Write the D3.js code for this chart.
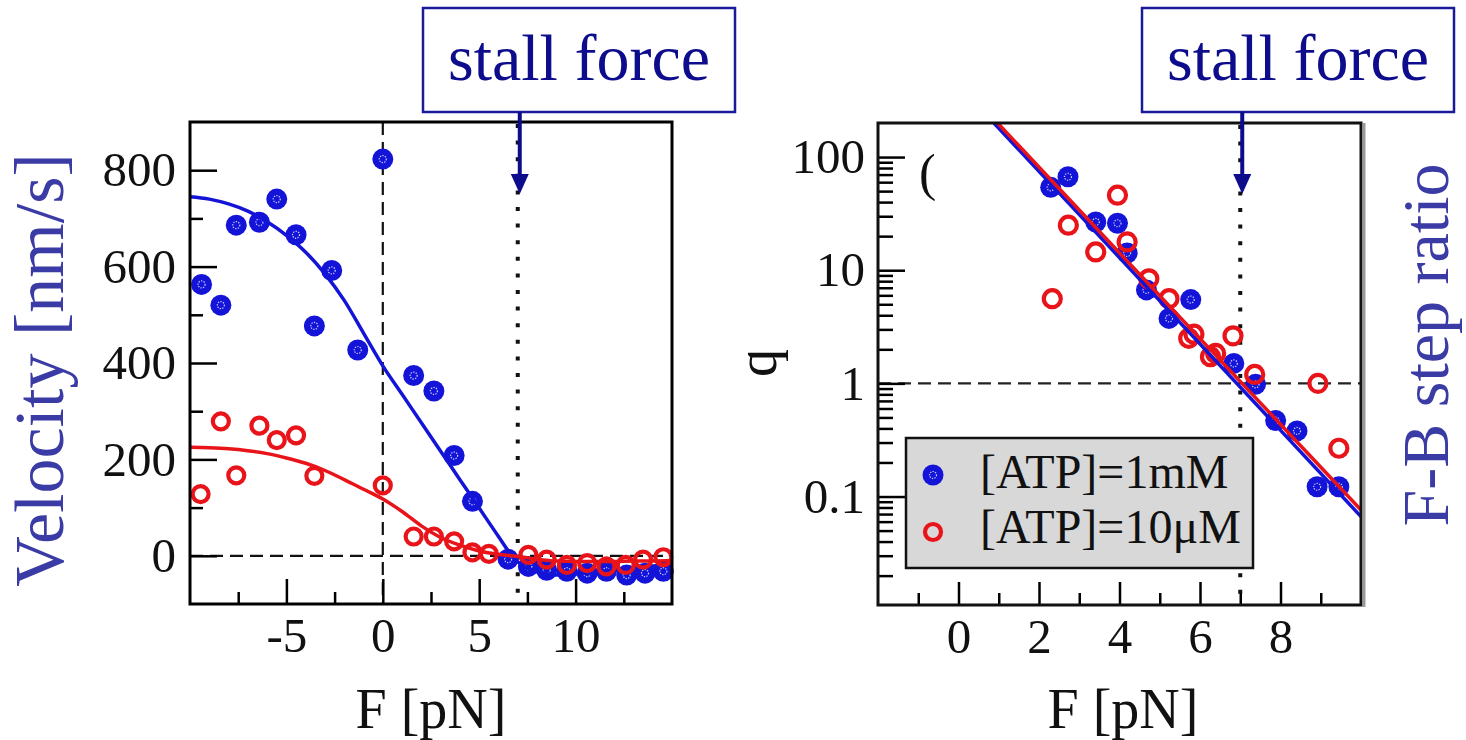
<!DOCTYPE html>
<html>
<head>
<meta charset="utf-8">
<script src="https://cdn.jsdelivr.net/npm/d3@7"></script>
<style>
  body { margin: 0; background: #fff; }
  svg { display: block; }
  text { font-family: "Liberation Serif", "Times New Roman", serif; }
</style>
</head>
<body>
<div id="chart"></div>
<script>
// ---- velocity panel (left) ----
const velForceBlue = [-9.4, -8.4, -7.6, -6.4, -5.5, -4.5, -3.55, -2.65, -1.3, 0, 1.6, 2.65, 3.7, 4.65, 6.5, 7.55, 8.5, 9.55, 10.6, 11.6, 12.65, 13.6, 14.55];
const velBlue = [563, 520, 686, 692, 740, 666, 477, 592, 427, 823, 374, 342, 208, 113, -7, -22, -30, -32, -36, -32, -40, -36, -32];
const velForceRed = [-9.45, -8.4, -7.6, -6.4, -5.5, -4.5, -3.55, 0, 1.6, 2.65, 3.7, 4.65, 5.5, 7.55, 8.5, 9.55, 10.6, 11.6, 12.6, 13.5, 14.55];
const velRed = [128, 279, 167, 270, 240, 250, 166, 146, 40, 40, 30, 7, 4, 2, -8, -19, -15, -22, -19, -8, -3];

// fitted curves
const fitForce = [-10, -9, -8, -7, -6, -5, -4, -3, -2, -1, 0, 1, 2, 3, 4, 5, 6, 6.7, 7.3, 8, 9, 10, 11, 12, 13, 14, 15];
const fitBlue = [745, 740, 730, 715, 693, 665, 630, 585, 530, 462, 394, 335, 276, 217, 158, 99, 40, 0, -22, -33, -40, -38, -34, -29, -25, -21, -18];
const fitRed = [225, 224, 222, 218, 212, 203, 192, 177, 158, 138, 118, 92, 62, 38, 22, 10, 3, 0, -3, -7, -11, -12, -12, -12, -11, -11, -10];

const velTicks = [0, 200, 400, 600, 800];
const velMinor = [100, 300, 500, 700];
const forceTicksL = [-5, 0, 5, 10];
const forceMinorL = [-7.5, -2.5, 2.5, 7.5, 12.5];

// ---- step ratio panel (right) ----
const qForceBlue = [2.29, 2.72, 3.41, 3.95, 4.19, 4.67, 5.23, 5.77, 6.84, 7.38, 7.88, 8.41, 8.91, 9.45];
const qBlue = [54, 67, 26.7, 26, 14.2, 6.7, 3.75, 5.5, 1.5, 0.98, 0.47, 0.38, 0.122, 0.122];
const qForceRed = [2.33, 2.73, 3.41, 3.95, 4.19, 4.73, 5.23, 5.72, 5.85, 6.26, 6.39, 6.82, 7.36, 8.93, 9.45];
const qRed = [5.6, 25, 14.5, 46, 17.8, 8.4, 5.6, 2.5, 2.72, 1.72, 1.84, 2.63, 1.2, 1.0, 0.267];

const qFitForceBlue = [0.88, 10];
const qFitBlue = [200, 0.0665];
const qFitForceRed = [0.97, 10];
const qFitRed = [200, 0.076];

const qTicks = [0.1, 1, 10, 100];
const qTickLabels = ["0.1", "1", "10", "100"];
const forceTicksR = [0, 2, 4, 6, 8];
const forceMinorR = [-1, 1, 3, 5, 7, 9];

const stallForce = 7;
const legendLabels = ["[ATP]=1mM", "[ATP]=10\u03bcM"];

const BLUE = "#1414d8", RED = "#e8141a", NAVY = "#0c0c8c", LABEL = "#3b3ba6";

const svg = d3.select("#chart")
  .append("svg")
    .attr("width", 1466)
    .attr("height", 740);

function styleAxis(g) {
  g.select(".domain").remove();
  g.selectAll("line").attr("stroke", "#000").attr("stroke-width", 2.5);
  g.selectAll("text")
    .attr("fill", "#111")
    .style("font-family", '"Liberation Serif", "Times New Roman", serif')
    .style("font-size", "49px");
}

function blueDot(sel) {
  sel.append("circle").attr("r", 10.5).attr("fill", BLUE);
  sel.append("circle").attr("r", 3.5).attr("fill", "none")
    .attr("stroke", "#c8d0ff").attr("stroke-width", 1.2)
    .attr("stroke-dasharray", "1.3,1.3");
}

// ================= left panel =================
const xL = d3.scaleLinear().domain([-10, 15]).range([190, 672]);
const yL = d3.scaleLinear().domain([-100, 900]).range([604, 122]);
const gL = svg.append("g");

// reference lines
gL.append("line")
  .attr("x1", xL(0)).attr("x2", xL(0)).attr("y1", yL(900)).attr("y2", yL(-100))
  .attr("stroke", "#111").attr("stroke-width", 2.2).attr("stroke-dasharray", "13,7");
gL.append("line")
  .attr("x1", xL(-10)).attr("x2", xL(15)).attr("y1", yL(0)).attr("y2", yL(0))
  .attr("stroke", "#111").attr("stroke-width", 2.2).attr("stroke-dasharray", "13,7");
gL.append("line")
  .attr("x1", xL(stallForce)).attr("x2", xL(stallForce)).attr("y1", yL(900) + 2).attr("y2", yL(-100))
  .attr("stroke", "#111").attr("stroke-width", 4).attr("stroke-dasharray", "4,12.6");

// axes with inward ticks
gL.append("g").attr("transform", `translate(${xL(-10)},0)`)
  .call(d3.axisLeft(yL).tickValues(velTicks).tickSize(-27).tickPadding(14).tickFormat(d => String(d)))
  .call(styleAxis);
gL.append("g").attr("transform", `translate(${xL(-10)},0)`)
  .call(d3.axisLeft(yL).tickValues(velMinor).tickSize(-13).tickFormat(""))
  .call(styleAxis);
gL.append("g").attr("transform", `translate(0,${yL(-100)})`)
  .call(d3.axisBottom(xL).tickValues(forceTicksL).tickSize(-25).tickPadding(13).tickFormat(d => String(d)))
  .call(styleAxis);
gL.append("g").attr("transform", `translate(0,${yL(-100)})`)
  .call(d3.axisBottom(xL).tickValues(forceMinorL).tickSize(-12).tickFormat(""))
  .call(styleAxis);

// blue points
gL.selectAll("g.bdot")
  .data(velForceBlue.map((f, i) => [f, velBlue[i]]))
  .join("g").attr("class", "bdot")
    .attr("transform", d => `translate(${xL(d[0])},${yL(d[1])})`)
    .call(blueDot);

const lineL = d3.line().x(d => xL(d[0])).y(d => yL(d[1])).curve(d3.curveMonotoneX);
gL.append("path")
  .datum(fitForce.map((f, i) => [f, fitBlue[i]]))
  .attr("d", lineL).attr("fill", "none").attr("stroke", BLUE).attr("stroke-width", 3.5);
gL.append("path")
  .datum(fitForce.map((f, i) => [f, fitRed[i]]))
  .attr("d", lineL).attr("fill", "none").attr("stroke", RED).attr("stroke-width", 3.5);

gL.selectAll("circle.rdot")
  .data(velForceRed.map((f, i) => [f, velRed[i]]))
  .join("circle").attr("class", "rdot")
    .attr("cx", d => xL(d[0])).attr("cy", d => yL(d[1]))
    .attr("r", 8).attr("fill", "none").attr("stroke", RED).attr("stroke-width", 4.2);

gL.append("rect")
  .attr("x", xL(-10)).attr("y", yL(900))
  .attr("width", xL(15) - xL(-10)).attr("height", yL(-100) - yL(900))
  .attr("fill", "none").attr("stroke", "#000").attr("stroke-width", 3);

// ================= right panel =================
const xR = d3.scaleLinear().domain([-2, 10]).range([878, 1361]);
const yR = d3.scaleLog().domain([0.011, 200]).range([605, 123]);
const gR = svg.append("g");

gR.append("line")
  .attr("x1", xR(-2)).attr("x2", xR(10)).attr("y1", yR(1)).attr("y2", yR(1))
  .attr("stroke", "#222").attr("stroke-width", 2.2).attr("stroke-dasharray", "13,7");
gR.append("line")
  .attr("x1", xR(stallForce)).attr("x2", xR(stallForce)).attr("y1", yR(200) + 2).attr("y2", yR(0.011))
  .attr("stroke", "#111").attr("stroke-width", 4).attr("stroke-dasharray", "4,12.6");

const minorLog = yR.ticks().filter(v => !qTicks.includes(v) && v < 200);
gR.append("g").attr("transform", `translate(${xR(-2)},0)`)
  .call(d3.axisLeft(yR).tickValues(qTicks).tickSize(-27).tickPadding(13)
    .tickFormat((d, i) => qTickLabels[i]))
  .call(styleAxis);
gR.append("g").attr("transform", `translate(${xR(-2)},0)`)
  .call(d3.axisLeft(yR).tickValues(minorLog).tickSize(-15).tickFormat(""))
  .call(styleAxis);
gR.append("g").attr("transform", `translate(0,${yR(0.011)})`)
  .call(d3.axisBottom(xR).tickValues(forceTicksR).tickSize(-23).tickPadding(13).tickFormat(d => String(d)))
  .call(styleAxis);
gR.append("g").attr("transform", `translate(0,${yR(0.011)})`)
  .call(d3.axisBottom(xR).tickValues(forceMinorR).tickSize(-12).tickFormat(""))
  .call(styleAxis);

// partly masked panel letter
gR.append("text").attr("x", 919).attr("y", 190).attr("font-size", 52).attr("fill", "#111").text("(");
gR.append("rect").attr("x", 934).attr("y", 128).attr("width", 72).attr("height", 66).attr("fill", "#fff");

gR.selectAll("g.bdot")
  .data(qForceBlue.map((f, i) => [f, qBlue[i]]))
  .join("g").attr("class", "bdot")
    .attr("transform", d => `translate(${xR(d[0])},${yR(d[1])})`)
    .call(blueDot);
gR.selectAll("circle.rdot")
  .data(qForceRed.map((f, i) => [f, qRed[i]]))
  .join("circle").attr("class", "rdot")
    .attr("cx", d => xR(d[0])).attr("cy", d => yR(d[1]))
    .attr("r", 8.5).attr("fill", "none").attr("stroke", RED).attr("stroke-width", 4.2);

const lineR = d3.line().x(d => xR(d[0])).y(d => yR(d[1]));
gR.append("path")
  .datum(qFitForceBlue.map((f, i) => [f, qFitBlue[i]]))
  .attr("d", lineR).attr("fill", "none").attr("stroke", BLUE).attr("stroke-width", 3.5);
gR.append("path")
  .datum(qFitForceRed.map((f, i) => [f, qFitRed[i]]))
  .attr("d", lineR).attr("fill", "none").attr("stroke", RED).attr("stroke-width", 3.5);

// legend
const leg = gR.append("g").attr("transform", "translate(906,438)");
leg.append("rect").attr("width", 347).attr("height", 130)
  .attr("fill", "#d8d8d8").attr("stroke", "#111").attr("stroke-width", 2.5);
leg.append("g").attr("transform", "translate(27,37)").call(blueDot);
leg.append("circle").attr("cx", 27).attr("cy", 94).attr("r", 8)
  .attr("fill", "none").attr("stroke", RED).attr("stroke-width", 4.2);
leg.selectAll("text.lg")
  .data(legendLabels)
  .join("text").attr("class", "lg")
    .attr("x", 74).attr("y", (d, i) => 50 + i * 55)
    .attr("font-size", 48).attr("fill", "#111")
    .text(d => d);

gR.append("rect")
  .attr("x", xR(-2)).attr("y", yR(200))
  .attr("width", xR(10) - xR(-2)).attr("height", yR(0.011) - yR(200))
  .attr("fill", "none").attr("stroke", "#111").attr("stroke-width", 3);
gR.append("line")
  .attr("x1", xR(10) + 3).attr("x2", xR(10) + 3).attr("y1", yR(200)).attr("y2", yR(0.011) + 2)
  .attr("stroke", "#999").attr("stroke-width", 3);

// ================= labels =================
svg.append("text")
  .attr("transform", "translate(63,370) rotate(-90)")
  .attr("text-anchor", "middle").attr("font-size", 70).attr("fill", LABEL)
  .text("Velocity [nm/s]");
svg.append("text")
  .attr("transform", "translate(1448,345) rotate(-90)")
  .attr("text-anchor", "middle").attr("font-size", 66).attr("fill", LABEL)
  .text("F-B step ratio");
svg.append("text")
  .attr("transform", "translate(776,363) rotate(-90)")
  .attr("text-anchor", "middle").attr("font-size", 56).attr("fill", "#111")
  .text("q");
svg.append("text")
  .attr("x", 431).attr("y", 728).attr("text-anchor", "middle")
  .attr("font-size", 56).attr("fill", "#111").text("F [pN]");
svg.append("text")
  .attr("x", 1123).attr("y", 728).attr("text-anchor", "middle")
  .attr("font-size", 56).attr("fill", "#111").text("F [pN]");

// stall force call-outs
[[423, xL(stallForce)], [1142, xR(stallForce)]].forEach(([bx, ax]) => {
  const g = svg.append("g");
  g.append("rect").attr("x", bx).attr("y", 8).attr("width", 312).attr("height", 104)
    .attr("fill", "#fff").attr("stroke", "#1a1a9a").attr("stroke-width", 2.5);
  g.append("text").attr("x", bx + 156).attr("y", 80).attr("text-anchor", "middle")
    .attr("font-size", 66).attr("fill", NAVY).text("stall force");
  g.append("line").attr("x1", ax + 2).attr("x2", ax + 2).attr("y1", 112).attr("y2", 176)
    .attr("stroke", NAVY).attr("stroke-width", 4);
  g.append("path")
    .attr("d", `M${ax - 7},174 L${ax + 11},174 L${ax + 2},194 Z`)
    .attr("fill", NAVY);
});
</script>
</body>
</html>
